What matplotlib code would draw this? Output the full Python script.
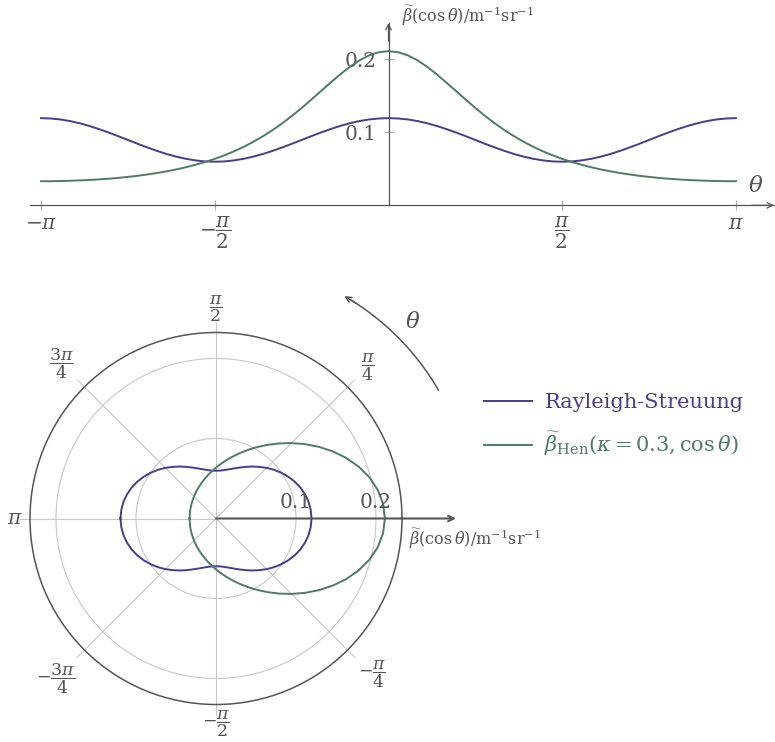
import numpy as np
import matplotlib
matplotlib.use('Agg')
import matplotlib.pyplot as plt

plt.rcParams['font.family'] = ['DejaVu Serif']
plt.rcParams['mathtext.fontset'] = 'dejavuserif'

# phase functions sampled every 5 degrees from 0 to 180 (both are symmetric in theta)
angle_deg = np.arange(0, 181, 5)
rayleigh_half = [0.1194, 0.1189, 0.1176, 0.1154, 0.1124, 0.1087, 0.1044, 0.0997, 0.0947,
                 0.0895, 0.0843, 0.0793, 0.0746, 0.0703, 0.0667, 0.0637, 0.0615, 0.0601,
                 0.0597, 0.0601, 0.0615, 0.0637, 0.0667, 0.0703, 0.0746, 0.0793, 0.0843,
                 0.0895, 0.0947, 0.0997, 0.1044, 0.1087, 0.1124, 0.1154, 0.1176, 0.1189, 0.1194]
henyey_half = [0.2111, 0.2097, 0.2054, 0.1986, 0.1897, 0.1794, 0.1681, 0.1564, 0.1447,
               0.1333, 0.1225, 0.1124, 0.1031, 0.0947, 0.0870, 0.0801, 0.0740, 0.0685,
               0.0636, 0.0593, 0.0555, 0.0521, 0.0491, 0.0465, 0.0442, 0.0422, 0.0404,
               0.0389, 0.0375, 0.0364, 0.0355, 0.0347, 0.0341, 0.0336, 0.0332, 0.0330, 0.0330]

x_ticks = [-np.pi, -np.pi / 2, np.pi / 2, np.pi]
x_ticklabels = [r'$-\pi$', r'$-\dfrac{\pi}{2}$', r'$\dfrac{\pi}{2}$', r'$\pi$']
y_ticks = [0.1, 0.2]
y_ticklabels = ['0.1', '0.2']

# angular labels of the polar plot: (angle, radius, text)
polar_labels = [
    (np.pi / 2, 0.262, r'$\dfrac{\pi}{2}$'),
    (np.pi / 4, 0.268, r'$\dfrac{\pi}{4}$'),
    (3 * np.pi / 4, 0.274, r'$\dfrac{3\pi}{4}$'),
    (np.pi, 0.252, r'$\pi$'),
    (-3 * np.pi / 4, 0.284, r'$-\dfrac{3\pi}{4}$'),
    (-np.pi / 2, 0.256, r'$-\dfrac{\pi}{2}$'),
    (-np.pi / 4, 0.276, r'$-\dfrac{\pi}{4}$'),
]

beta_label = r'$\widetilde{\beta}(\cos\theta)/\mathrm{m}^{-1}\mathrm{sr}^{-1}$'
rayleigh_name = 'Rayleigh-Streuung'
henyey_name = r'$\widetilde{\beta}_{\mathrm{Hen}}\left(\kappa = 0.3, \cos\theta\right)$'

# full -pi..pi range by mirroring the half curves
theta = np.radians(np.concatenate([-angle_deg[:0:-1], angle_deg]))
rayleigh = np.concatenate([rayleigh_half[:0:-1], rayleigh_half])
henyey = np.concatenate([henyey_half[:0:-1], henyey_half])

GRAY = '#555555'
LIGHT = '#c8c8c8'
TICK = '#aaaaaa'
PURPLE = '#483d8b'
GREEN = '#4f7b64'

W, H = 775, 742
fig = plt.figure(figsize=(W / 100, H / 100), dpi=100)


def px_box(left, top, right, bottom):
    return [left / W, 1 - bottom / H, (right - left) / W, (bottom - top) / H]


# --- cartesian plot ---
ax = fig.add_axes(px_box(30, 23, 774, 205.3))
ax.plot(theta, rayleigh, color=PURPLE, lw=1.4)
ax.plot(theta, henyey, color=GREEN, lw=1.4)
ax.set_xlim(-3.2414, 3.4855)
ax.set_ylim(0, 0.2497)
ax.set_facecolor('none')
for s in ['top', 'right']:
    ax.spines[s].set_visible(False)
ax.spines['left'].set_position(('data', 0))
for s in ['left', 'bottom']:
    ax.spines[s].set_color(GRAY)
    ax.spines[s].set_linewidth(0.9)
ax.annotate('', xy=(1, 0), xycoords='axes fraction', xytext=(0.97, 0),
            arrowprops=dict(arrowstyle='->', color=GRAY, lw=0.9, shrinkA=0, shrinkB=0))
ax.annotate('', xy=(0, 1), xycoords=ax.get_xaxis_transform(), xytext=(0, 0.9),
            arrowprops=dict(arrowstyle='->', color=GRAY, lw=0.9, shrinkA=0, shrinkB=0))
ax.set_xticks(x_ticks)
ax.set_xticklabels(x_ticklabels)
ax.set_yticks(y_ticks)
ax.set_yticklabels(y_ticklabels)
ax.tick_params(direction='inout', length=7, width=0.8, color=TICK,
               labelcolor=GRAY, labelsize=14.5)
ax.tick_params(axis='x', pad=3)
ax.tick_params(axis='y', pad=5)
ax.text(0.122, 0.26, beta_label, fontsize=11.5, color=GRAY, va='center', ha='left')
ax.text(3.32, 0.012, r'$\theta$', fontsize=16.5, color=GRAY, va='bottom', ha='center')

# --- polar plot ---
pax = fig.add_axes(px_box(30, 332.5, 402, 704.5), projection='polar')
pax.set_ylim(0, 0.2325)
pax.set_yticks([0.1, 0.2])
pax.set_yticklabels([])
pax.set_xticks([])
pax.grid(True, color=LIGHT, lw=0.8)
pax.spines['polar'].set_color(GRAY)
pax.spines['polar'].set_linewidth(1.1)

for a in np.radians(np.arange(45, 360, 45)):
    pax.plot([a, a], [0, 0.245], color=LIGHT, lw=0.8, clip_on=False, zorder=1)

l1, = pax.plot(theta, rayleigh, color=PURPLE, lw=1.4, label=rayleigh_name, zorder=3)
l2, = pax.plot(theta, henyey, color=GREEN, lw=1.4, label=henyey_name, zorder=3)

pax.annotate('', xy=(0, 0.3), xytext=(0, 0), annotation_clip=False,
             arrowprops=dict(arrowstyle='->', color=GRAY, lw=1.5, shrinkA=0, shrinkB=0),
             zorder=4)
for r, txt in zip(y_ticks, y_ticklabels):
    pax.annotate(txt, xy=(0, r), xytext=(0, 5), textcoords='offset points',
                 ha='center', va='bottom', fontsize=14.5, color=GRAY, zorder=5)
pax.annotate(beta_label, xy=(0, 0.241), xytext=(0, -6), textcoords='offset points',
             ha='left', va='top', fontsize=11.5, color=GRAY, annotation_clip=False)

for a, r, txt in polar_labels:
    size = 12.5 if 'frac' in txt else 14.5
    pax.text(a, r, txt, ha='center', va='center', fontsize=size, color=GRAY, clip_on=False)

# direction of increasing theta
arc = np.radians(np.linspace(30, 58, 30))
pax.plot(arc, np.full_like(arc, 0.321), color=GRAY, lw=1.1, clip_on=False)
pax.annotate('', xy=(np.radians(60), 0.321), xytext=(np.radians(57), 0.321),
             annotation_clip=False,
             arrowprops=dict(arrowstyle='->', color=GRAY, lw=1.1, shrinkA=0, shrinkB=0))
pax.text(np.radians(45), 0.348, r'$\theta$', ha='center', va='center',
         fontsize=16.5, color=GRAY, clip_on=False)

fig.legend(handles=[l1, l2], loc='center left', bbox_to_anchor=(484 / W, 1 - 425.4 / H),
           frameon=False, labelcolor='linecolor', fontsize=15, handlelength=2.3,
           handletextpad=0.6, borderpad=0, borderaxespad=0, labelspacing=0.85)

fig.savefig('out.png', dpi=100)
